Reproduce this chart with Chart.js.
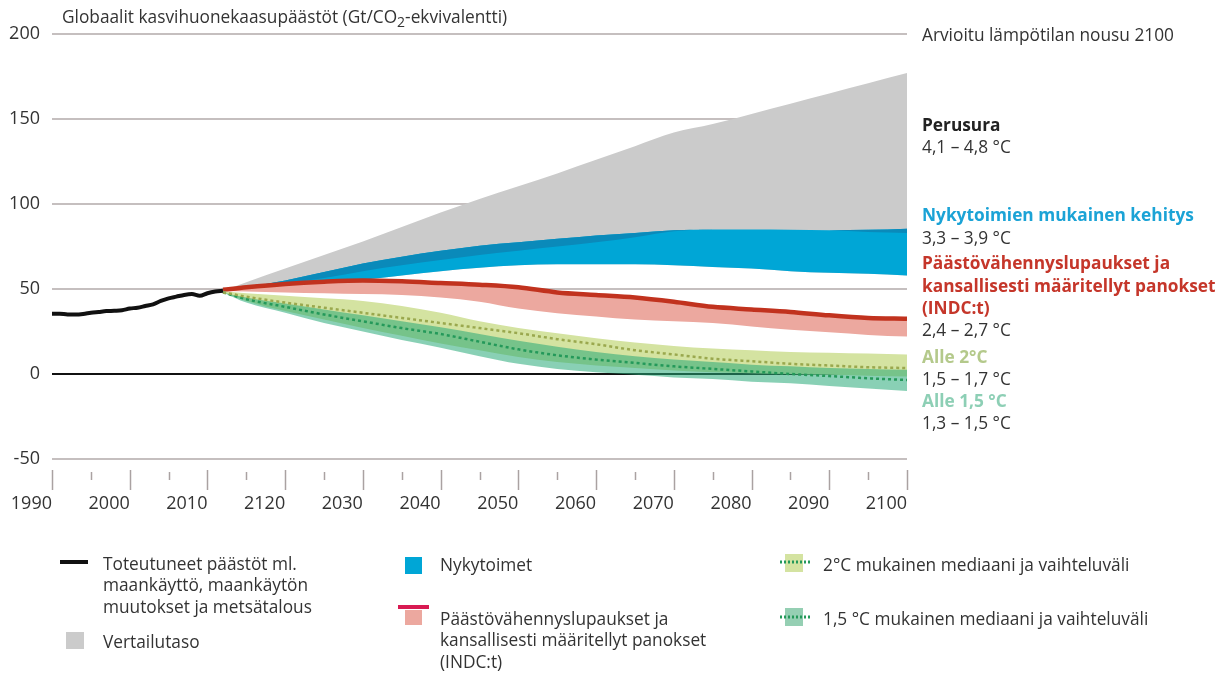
<!DOCTYPE html>
<html><head><meta charset="utf-8">
<script src="https://cdn.jsdelivr.net/npm/chart.js@4.4.1/dist/chart.umd.min.js"></script>
<style>html,body{margin:0;padding:0;background:#fff;}canvas{display:block}</style>
</head><body>
<canvas id="c" width="1222" height="673"></canvas>
<script>
const FONT = '"Open Sans", "Noto Sans", sans-serif';

// Historical emissions (Gt CO2-eq)
const histYears  = [1990,1991,1992,1993,1994,1995,1996,1997,1998,1999,2000,2001,2002,2003,2004,2005,2006,2007,2008,2009,2010,2011,2012];
const histValues = [35.5,35.5,35.0,35.0,35.3,36.0,36.5,37.0,37.2,37.5,38.5,39.0,40.0,41.0,43.0,44.5,45.5,46.5,47.0,46.0,47.5,48.5,49.0];

// Projection years
const projYears = [2012,2015,2020,2025,2030,2035,2040,2045,2050,2055,2060,2065,2070,2075,2080,2085,2090,2095,2100];

// Baseline (Perusura / Vertailutaso) upper edge
const baseUpper      = [49,54,62,70,78,86.5,95,103,110.5,118,126,134,142,147,153,159,165,171,177];
// Current policies (Nykytoimet)
const nykyUpper      = [49,51,55,60,65,69,72.5,75.5,77.5,79.5,81.5,83,84.5,85,85,84.8,84.5,84.8,85.5];
const nykyStripLower = [49,50.3,53,56.5,60.5,64,67,70,72.5,75,77.5,80.5,84,85,85,84.8,84.5,83.5,83];
const nykyLower      = [49,50,51.5,53.5,55.5,58,60.5,62.5,64,64.5,64.5,64.5,64,63,62,60.5,59.5,59,58];
// INDC pledges
const indcLine       = [49.5,51,53,54.3,55,54.5,53.5,52.5,51,48,46.5,45,42.5,39.5,38,36.5,34.5,33,32.5];
const indcLower      = [49,48.5,48,47.5,47,46.5,45,42.5,38.5,35.8,33.8,32,31,30,28,26,24.5,23,22];
// Below 2 °C
const twoUpper       = [48.5,47.5,46,44.5,43,40,36,31,27,24,21,18.5,16.5,15,14,13,12.5,12,11.5];
const twoMedian      = [48,45.5,42,39,36,33,30,27,24,20.5,17.5,14,11.5,9,7.5,6,5,4,3.5];
const twoLower       = [48,43,37,32,27,22.5,18,14,10,7,5,3.5,2,1,0.5,0,-0.5,-1,-1.5];
// Below 1.5 °C
const onefiveUpper   = [48,45,41.5,38,34.5,31,27.5,23.5,19.5,16,13,10.5,8.5,7,5.5,4.5,3.5,3,2.5];
const onefiveMedian  = [48,44,39.5,35,31,27,23.5,19,14.5,11,8.5,6.5,4.5,3,1.5,0,-1.2,-2.5,-3.5];
const onefiveLower   = [48,42,36,30,25,20,15.5,10.5,6,3,1,-0.5,-2,-3,-4.5,-5.5,-7,-8.5,-10];

// Axis tick labels (as printed in the source)
const xTickLabels = ['1990','2000','2010','2120','2030','2040','2050','2060','2070','2080','2090','2100'];
const yTickValues = [-50,0,50,100,150,200];

// Texts
const titleParts = ['Globaalit kasvihuonekaasupäästöt (Gt/CO','2','-ekvivalentti)'];
const rightHeader = 'Arvioitu lämpötilan nousu 2100';
const scenarioTitles = [['Perusura'],['Nykytoimien mukainen kehitys'],['Päästövähennyslupaukset ja','kansallisesti määritellyt panokset','(INDC:t)'],['Alle 2°C'],['Alle 1,5 °C']];
const scenarioRanges = ['4,1 – 4,8 °C','3,3 – 3,9 °C','2,4 – 2,7 °C','1,5 – 1,7 °C','1,3 – 1,5 °C'];
const legendTexts = [
  ['Toteutuneet päästöt ml.','maankäyttö, maankäytön','muutokset ja metsätalous'],
  ['Vertailutaso'],
  ['Nykytoimet'],
  ['Päästövähennyslupaukset ja','kansallisesti määritellyt panokset','(INDC:t)'],
  ['2°C mukainen mediaani ja vaihteluväli'],
  ['1,5 °C mukainen mediaani ja vaihteluväli']
];

const pts = (xs, ys) => xs.map((x, i) => ({x: x, y: ys[i]}));
const base = {pointRadius: 0, pointHoverRadius: 0, borderWidth: 0, cubicInterpolationMode: 'monotone', fill: false};

const COL = {
  gray: '#cbcbcb', blue: '#00a6d6', blueDark: '#0a8aba', red: '#c1321e', pink: '#eca89f',
  lightGreen: '#d4e3a1', teal: 'rgba(40,170,120,0.55)', olive: '#9aa84e', green: '#24995a',
  text: '#333333'
};
const TXT = 17.3;

const overlays = {
  id: 'overlays',
  afterDraw(chart) {
    const ctx = chart.ctx;
    const xs = chart.scales.x;
    const area = chart.chartArea;
    ctx.save();
    // x tick marks (major long, minor short)
    ctx.strokeStyle = '#aaa2a2';
    ctx.lineWidth = 1.5;
    xs.ticks.forEach(t => {
      const px = Math.round(xs.getPixelForValue(t.value)) + 0.5;
      const major = t.value % 10 === 0;
      ctx.beginPath();
      ctx.moveTo(px, area.bottom + (major ? 2.5 : 4.5));
      ctx.lineTo(px, area.bottom + (major ? 22.5 : 12.5));
      ctx.stroke();
    });

    // title with subscript
    ctx.fillStyle = COL.text;
    ctx.textBaseline = 'alphabetic';
    ctx.textAlign = 'left';
    let x = 62;
    const by = 23;
    ctx.font = TXT + 'px ' + FONT;
    ctx.fillText(titleParts[0], x, by); x += ctx.measureText(titleParts[0]).width;
    ctx.font = '14px ' + FONT;
    ctx.fillText(titleParts[1], x, by + 4); x += ctx.measureText(titleParts[1]).width;
    ctx.font = TXT + 'px ' + FONT;
    ctx.fillText(titleParts[2], x, by);

    // right-side annotations
    const rx = 922;
    ctx.textBaseline = 'middle';
    ctx.font = TXT + 'px ' + FONT;
    ctx.fillText(rightHeader, rx, 36);
    const titleColors = ['#222222', '#1ba3d6', '#c5362a', '#b4c98b', '#8dcfb5'];
    const titleY = [[126], [216], [264, 287, 309], [358], [402]];
    const rangeY = [148, 239, 331, 380, 424];
    scenarioTitles.forEach((lines, i) => {
      ctx.font = 'bold ' + TXT + 'px ' + FONT;
      ctx.fillStyle = titleColors[i];
      lines.forEach((ln, j) => ctx.fillText(ln, rx, titleY[i][j]));
      ctx.font = TXT + 'px ' + FONT;
      ctx.fillStyle = COL.text;
      ctx.fillText(scenarioRanges[i], rx, rangeY[i]);
    });

    // legend
    ctx.font = TXT + 'px ' + FONT;
    const lh = 21.5;
    const drawLines = (lines, lx, ly) => lines.forEach((ln, j) => { ctx.fillStyle = COL.text; ctx.fillText(ln, lx, ly + j * lh); });
    // 1: black line
    ctx.fillStyle = '#111'; ctx.fillRect(60, 560, 28, 4);
    drawLines(legendTexts[0], 103, 565);
    // 2: gray square
    ctx.fillStyle = COL.gray; ctx.fillRect(66, 632, 18, 17);
    drawLines(legendTexts[1], 103, 643);
    // 3: blue square
    ctx.fillStyle = COL.blue; ctx.fillRect(405, 557, 17, 17);
    drawLines(legendTexts[2], 440, 566);
    // 4: red line + pink square
    ctx.fillStyle = '#d81a52'; ctx.fillRect(398, 605, 31, 4);
    ctx.fillStyle = COL.pink; ctx.fillRect(405, 610, 17, 15);
    drawLines(legendTexts[3], 440, 620);
    // 5: light green square + dotted line
    ctx.fillStyle = COL.lightGreen; ctx.fillRect(785, 554, 18, 18);
    ctx.strokeStyle = COL.green; ctx.lineWidth = 3; ctx.setLineDash([2, 2]);
    ctx.beginPath(); ctx.moveTo(780, 562); ctx.lineTo(812, 562); ctx.stroke();
    drawLines(legendTexts[4], 823, 566);
    // 6: teal square + dotted line
    ctx.fillStyle = '#95cfb3'; ctx.fillRect(785, 608, 18, 18);
    ctx.strokeStyle = COL.green;
    ctx.beginPath(); ctx.moveTo(780, 617); ctx.lineTo(812, 617); ctx.stroke();
    ctx.setLineDash([]);
    drawLines(legendTexts[5], 823, 620);
    ctx.restore();
  }
};

new Chart(document.getElementById('c'), {
  type: 'line',
  data: {
    datasets: [
      {...base, label: 'baseLow', data: pts(projYears, nykyLower), order: 100},                                       //0
      {...base, label: 'Vertailutaso', data: pts(projYears, baseUpper), fill: 0, backgroundColor: COL.gray, order: 100}, //1
      {...base, label: 'nykyLow', data: pts(projYears, nykyLower), order: 90},                                        //2
      {...base, label: 'Nykytoimet', data: pts(projYears, nykyUpper), fill: 2, backgroundColor: COL.blue, order: 90},   //3
      {...base, label: 'nykyStrip', data: pts(projYears, nykyStripLower), order: 85},                                  //4
      {...base, label: 'nykyTop', data: pts(projYears, nykyUpper), fill: 4, backgroundColor: COL.blueDark, order: 85},  //5
      {...base, label: 'indcLow', data: pts(projYears, indcLower), order: 80},                                         //6
      {...base, label: 'INDC', data: pts(projYears, indcLine), fill: 6, backgroundColor: COL.pink, borderColor: COL.red, borderWidth: 4.5, order: 80}, //7
      {...base, label: 'twoLow', data: pts(projYears, twoLower), order: 70},                                           //8
      {...base, label: 'Alle 2°C', data: pts(projYears, twoUpper), fill: 8, backgroundColor: COL.lightGreen, order: 70}, //9
      {...base, label: 'onefiveLow', data: pts(projYears, onefiveLower), order: 60},                                   //10
      {...base, label: 'Alle 1,5 °C', data: pts(projYears, onefiveUpper), fill: 10, backgroundColor: COL.teal, order: 60}, //11
      {...base, label: '2°C mediaani', data: pts(projYears, twoMedian), borderColor: COL.olive, borderWidth: 2.5, borderDash: [3, 3], order: 50},
      {...base, label: '1,5 °C mediaani', data: pts(projYears, onefiveMedian), borderColor: COL.green, borderWidth: 2.5, borderDash: [3, 3], order: 50},
      {...base, label: 'Toteutuneet', data: pts(histYears, histValues), borderColor: '#111111', borderWidth: 4, order: 5}
    ]
  },
  options: {
    responsive: false,
    animation: false,
    devicePixelRatio: 1,
    parsing: false,
    layout: {padding: {top: 34, left: 0, right: 315, bottom: 0}},
    plugins: {legend: {display: false}, tooltip: {enabled: false}, title: {display: false}},
    scales: {
      x: {
        type: 'linear', min: 1990, max: 2100,
        grid: {display: false, drawTicks: true, tickLength: 22}, border: {display: false},
        ticks: {
          stepSize: 5, autoSkip: false, maxRotation: 0, minRotation: 0, align: 'end', padding: 4,
          color: COL.text, font: {family: FONT, size: 18},
          callback: v => (v % 10 === 0 ? xTickLabels[(v - 1990) / 10] : '')
        },
        afterFit: s => { s.height = 205.5; }
      },
      y: {
        min: -55, max: 200, z: 1,
        afterBuildTicks: ax => { ax.ticks = yTickValues.map(v => ({value: v})); },
        grid: {color: c => (c.tick && c.tick.value === 0 ? '#111111' : 'rgba(140,128,128,0.5)'), lineWidth: 2, drawTicks: false},
        border: {display: false},
        ticks: {padding: 12, color: COL.text, font: {family: FONT, size: 18}},
        afterFit: s => { s.width = 52; }
      }
    }
  },
  plugins: [overlays]
});
</script>
</body></html>
